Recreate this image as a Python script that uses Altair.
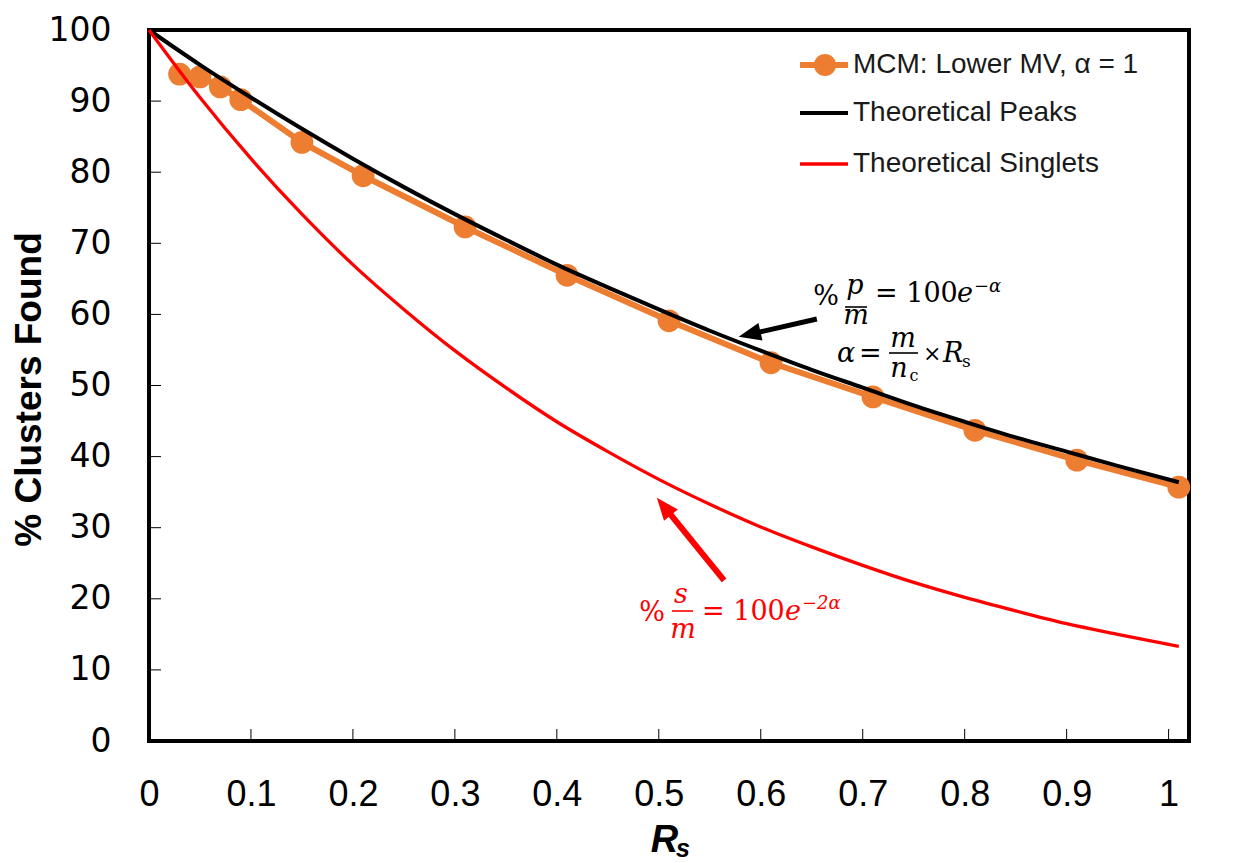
import altair as alt
import pandas as pd

# ---------------- data ----------------
mcm_x = [0.03, 0.05, 0.07, 0.09, 0.15, 0.21, 0.31, 0.41, 0.51, 0.61, 0.71, 0.81, 0.91, 1.01]
mcm_y = [93.8, 93.4, 92.0, 90.2, 84.2, 79.5, 72.3, 65.5, 59.1, 53.2, 48.4, 43.7, 39.5, 35.7]

curve_x = [0, 0.05, 0.1, 0.15, 0.2, 0.25, 0.3, 0.35, 0.4, 0.45, 0.5,
           0.55, 0.6, 0.65, 0.7, 0.75, 0.8, 0.85, 0.9, 0.95, 1.01]
peaks_y = [100, 95.1, 90.5, 86.1, 81.9, 77.9, 74.1, 70.5, 67.0, 63.8, 60.7,
           57.7, 54.9, 52.2, 49.7, 47.2, 44.9, 42.7, 40.7, 38.7, 36.4]
singlets_y = [100, 90.5, 81.9, 74.1, 67.0, 60.7, 54.9, 49.7, 44.9, 40.7, 36.8,
              33.3, 30.1, 27.3, 24.7, 22.3, 20.2, 18.3, 16.5, 15.0, 13.3]

series_names = ["MCM: Lower MV, α = 1", "Theoretical Peaks", "Theoretical Singlets"]
series_colors = ["#ED7D31", "#000000", "#FF0000"]

x_ticks = [0, 0.1, 0.2, 0.3, 0.4, 0.5, 0.6, 0.7, 0.8, 0.9, 1.0]
y_ticks = [0, 10, 20, 30, 40, 50, 60, 70, 80, 90, 100]

# arrows (data units): tail -> head centre
black_arrow = {"x": [0.655], "y": [59.35], "x2": [0.589], "y2": [57.2]}
red_arrow = {"x": [0.564], "y": [22.6], "x2": [0.505], "y2": [33.0]}

# ---------------- layout ----------------
W, H = 1040, 711
OX, OY = 149, 30  # plot origin in page pixels
X_DOM = [0, 1.02]
Y_DOM = [0, 100]

xs = alt.Scale(domain=X_DOM, nice=False, zero=False)
ys = alt.Scale(domain=Y_DOM, nice=False)

mcm = pd.DataFrame({"x": mcm_x, "y": mcm_y})
peaks = pd.DataFrame({"x": curve_x, "y": peaks_y})
singlets = pd.DataFrame({"x": curve_x, "y": singlets_y})
dummy = pd.DataFrame({"a": [0]})

x_axis = alt.Axis(values=x_ticks, format="~g", grid=False, domain=False, ticks=False, tickSize=0,
                  labelFont="Liberation Sans", labelFontSize=36, labelColor="#000000",
                  labelPadding=36, labelFlush=False,
                  title="R", titleFont="Liberation Sans", titleFontSize=38,
                  titleFontWeight="bold", titleFontStyle="italic", titleColor="#000000",
                  titleX=515, titleY=110, titleAlign="center", titleBaseline="alphabetic")
y_axis = alt.Axis(values=y_ticks, format="d", grid=False, domain=False, ticks=False, tickSize=0,
                  labelFont="DejaVu Sans", labelFontSize=33, labelColor="#000000",
                  labelPadding=38, labelFlush=False,
                  title="% Clusters Found", titleFont="Liberation Sans", titleFontSize=37,
                  titleFontWeight="bold", titleColor="#000000",
                  titleX=-120, titleY=359, titleAngle=270, titleAlign="center",
                  titleBaseline="middle")

base_line = alt.Chart(mcm).mark_line(color=series_colors[0], strokeWidth=6).encode(
    x=alt.X("x:Q", scale=xs, axis=x_axis),
    y=alt.Y("y:Q", scale=ys, axis=y_axis),
)
mcm_pts = alt.Chart(mcm).mark_circle(color=series_colors[0], size=520, opacity=1).encode(
    x=alt.X("x:Q", scale=xs), y=alt.Y("y:Q", scale=ys))
peaks_line = alt.Chart(peaks).mark_line(color=series_colors[1], strokeWidth=4,
                                        interpolate="monotone").encode(
    x=alt.X("x:Q", scale=xs), y=alt.Y("y:Q", scale=ys))
singlets_line = alt.Chart(singlets).mark_line(color=series_colors[2], strokeWidth=3.3,
                                              interpolate="monotone").encode(
    x=alt.X("x:Q", scale=xs), y=alt.Y("y:Q", scale=ys))

# inward tick marks
xt = pd.DataFrame({"v": x_ticks[1:]})
yt = pd.DataFrame({"v": y_ticks[1:-1]})
x_tick_marks = alt.Chart(xt).mark_rule(color="#000000", strokeWidth=1).encode(
    x=alt.X("v:Q", scale=xs), y=alt.value(H), y2=alt.value(H - 12))
y_tick_marks = alt.Chart(yt).mark_rule(color="#000000", strokeWidth=1).encode(
    y=alt.Y("v:Q", scale=ys), x=alt.value(0), x2=alt.value(12))


def txt(s, px, py, size, color="#000000", style="normal", align="left",
        baseline="alphabetic", font="DejaVu Serif", weight="normal"):
    return alt.Chart(dummy).mark_text(
        text=s, align=align, baseline=baseline, fontSize=size, font=font,
        fontStyle=style, fontWeight=weight, color=color
    ).encode(x=alt.value(px - OX), y=alt.value(py - OY))


def hbar(px1, px2, py, color="#000000", w=1.6):
    return alt.Chart(dummy).mark_rule(color=color, strokeWidth=w).encode(
        x=alt.value(px1 - OX), x2=alt.value(px2 - OX), y=alt.value(py - OY))


# subscript of axis title
sub_s = txt("s", 676, 857, 25, style="italic", font="Liberation Sans", weight="bold")

# arrows
HEAD = "M0,-1L0.8,1L-0.8,1Z"


def arrow(d, color, width, angle):
    df = pd.DataFrame(d)
    shaft = alt.Chart(df).mark_rule(color=color, strokeWidth=width).encode(
        x=alt.X("x:Q", scale=xs), y=alt.Y("y:Q", scale=ys),
        x2="x2:Q", y2="y2:Q")
    head = alt.Chart(df).mark_point(shape=HEAD, filled=True, color=color, opacity=1,
                                    size=500, angle=angle, strokeWidth=0).encode(
        x=alt.X("x2:Q", scale=xs), y=alt.Y("y2:Q", scale=ys))
    return [shaft, head]


arrows = arrow(black_arrow, "#000000", 5, 257) + arrow(red_arrow, "#FF0000", 6, 321)

# equations
FS = 27
eq = [
    # % p/m = 100 e^-alpha  (black)
    txt("%", 826, 305, FS, align="center"),
    txt("p", 855, 294, FS, style="italic", align="center"),
    hbar(845, 867, 307),
    txt("m", 856, 324, FS, style="italic", align="center"),
    txt("= 100", 875, 302, FS),
    txt("e", 957, 302, FS, style="italic"),
    txt("−α", 974, 292, 18, style="italic"),
    # alpha = m/n_c x R_s
    txt("α", 837, 362, FS, style="italic"),
    txt("=", 859, 362, FS),
    txt("m", 903, 347, FS, style="italic", align="center"),
    hbar(889, 918, 353),
    txt("n", 899, 377, FS, style="italic", align="center"),
    txt("c", 914, 381, 16, align="center"),
    txt("×", 923, 361, 22),
    txt("R", 943, 362, FS, style="italic"),
    txt("s", 962, 367, 17),
    # % s/m = 100 e^-2alpha (red)
    txt("%", 652, 621, FS, color="#FF0000", align="center"),
    txt("s", 681, 603, FS, color="#FF0000", style="italic", align="center"),
    hbar(672, 693, 611, color="#FF0000"),
    txt("m", 683, 638, FS, color="#FF0000", style="italic", align="center"),
    txt("= 100", 702, 620, FS, color="#FF0000"),
    txt("e", 785, 620, FS, color="#FF0000", style="italic"),
    txt("−2α", 802, 609, 18, color="#FF0000", style="italic"),
]

# legend
leg_rows = [65, 113, 164]
leg_widths = [6, 4, 3.3]
legend = []
for name, col, ry, lw in zip(series_names, series_colors, leg_rows, leg_widths):
    legend.append(hbar(800, 848, ry, color=col, w=lw))
    legend.append(txt(name, 853, ry, 28, color="#1a1a1a", baseline="middle",
                      font="Liberation Sans"))
legend.append(alt.Chart(dummy).mark_circle(color=series_colors[0], size=490, opacity=1).encode(
    x=alt.value(825 - OX), y=alt.value(leg_rows[0] - OY)))

chart = alt.layer(
    base_line, mcm_pts, peaks_line, singlets_line, x_tick_marks, y_tick_marks,
    sub_s, *arrows, *eq, *legend
).properties(
    width=W, height=H,
    autosize=alt.AutoSizeParams(type="none"),
    padding={"left": OX, "top": OY, "right": 1236 - OX - W, "bottom": 863 - OY - H},
    background="white",
).configure_view(stroke="#000000", strokeWidth=4)

chart.save("out.html", embed_options={"renderer": "svg", "actions": False})
